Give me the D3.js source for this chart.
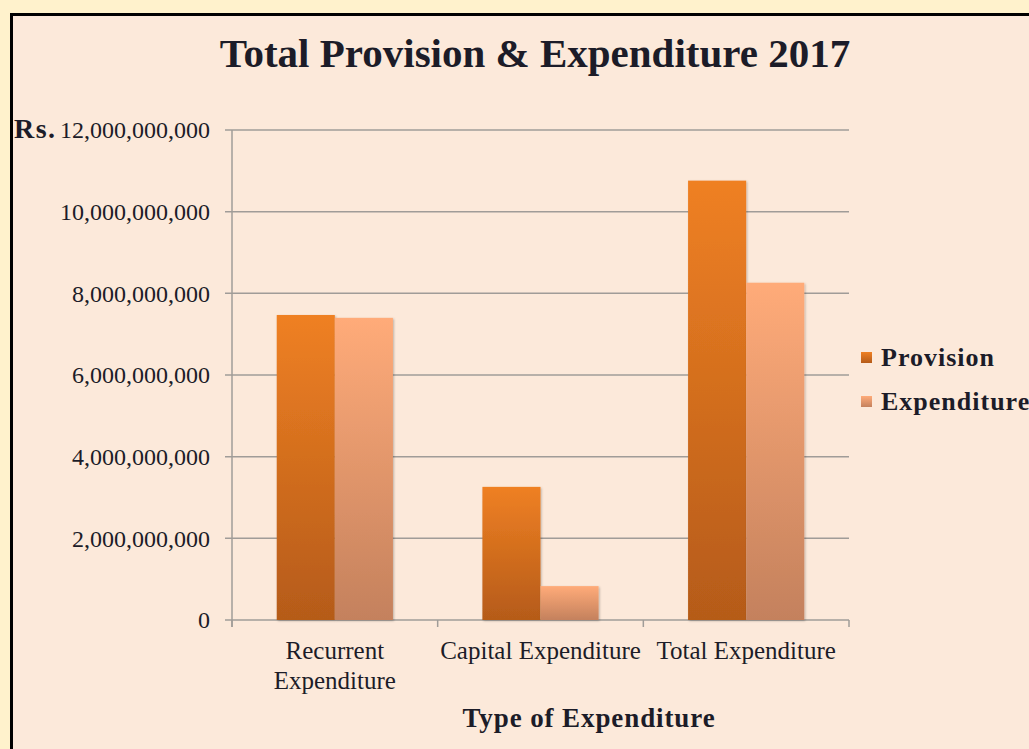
<!DOCTYPE html>
<html lang="en">
<head>
<meta charset="UTF-8"/>
<title>Total Provision & Expenditure 2017</title>
<script src="https://d3js.org/d3.v7.min.js"></script>
<style>
	html, body { margin: 0; padding: 0; background: #FFF2CC; overflow: hidden; }
	text { font-family: "Liberation Serif", "Times New Roman", serif; fill: #1c1c28; }
</style>
</head>
<body>
<script>
	// chart data
	var categories = ["Recurrent Expenditure", "Capital Expenditure", "Total Expenditure"];
	var catLines = [["Recurrent", "Expenditure"], ["Capital Expenditure"], ["Total Expenditure"]];
	var seriesNames = ["Provision", "Expenditure"];
	var provision = [7.47e9, 3.26e9, 10.76e9];
	var expenditure = [7.40e9, 0.83e9, 8.26e9];
	var yTicks = [0, 2e9, 4e9, 6e9, 8e9, 10e9, 12e9];

	var w = 1029, h = 749;
	var mLeft = 232, mRight = 849, mTop = 130, mBottom = 620;

	var svg = d3.select("body").append("svg")
		.attr("width", w)
		.attr("height", h);

	var defs = svg.append("defs");
	// gradients for the two series
	var grads = [["gProv", "#EF8023", "#B55B19"], ["gExp", "#FFAB79", "#C4815D"]];
	grads.forEach(function(g) {
		var lg = defs.append("linearGradient").attr("id", g[0])
			.attr("x1", 0).attr("y1", 0).attr("x2", 0).attr("y2", 1);
		lg.append("stop").attr("offset", "0%").attr("stop-color", g[1]);
		lg.append("stop").attr("offset", "100%").attr("stop-color", g[2]);
	});
	var f = defs.append("filter").attr("id", "shadow")
		.attr("x", "-10%").attr("y", "-10%").attr("width", "130%").attr("height", "130%");
	f.append("feDropShadow").attr("dx", 1).attr("dy", 1).attr("stdDeviation", 1.2)
		.attr("flood-color", "#000").attr("flood-opacity", 0.25);

	// chart box
	svg.append("rect")
		.attr("x", 11.5).attr("y", 14.5)
		.attr("width", w + 20).attr("height", h + 20)
		.attr("fill", "#FCE9DA")
		.attr("stroke", "#000")
		.attr("stroke-width", 3);

	var x0 = d3.scaleBand().domain(categories).range([mLeft, mRight]).paddingInner(0).paddingOuter(0);
	var x1 = d3.scaleBand().domain(seriesNames).range([0, x0.bandwidth()]).paddingOuter(0.77).paddingInner(0);
	var y = d3.scaleLinear().domain([0, 12e9]).range([mBottom, mTop]);

	// gridlines
	svg.append("g").selectAll("line")
		.data(yTicks)
		.enter().append("line")
		.attr("x1", mLeft - 7).attr("x2", mRight)
		.attr("y1", function(d) { return y(d); })
		.attr("y2", function(d) { return y(d); })
		.attr("stroke", "#A09C98").attr("stroke-width", 1.5);

	// y axis
	var yAxis = d3.axisLeft(y).tickValues(yTicks).tickSize(0).tickPadding(22)
		.tickFormat(d3.format(",.0f"));
	var gy = svg.append("g").attr("transform", "translate(" + mLeft + ",0)").call(yAxis);
	gy.select(".domain").remove();
	gy.selectAll("text").attr("font-size", 24).attr("fill", "#1c1c28")
		.style("font-family", "'Liberation Serif', serif");
	svg.append("line")
		.attr("x1", mLeft).attr("x2", mLeft).attr("y1", mTop).attr("y2", mBottom + 7)
		.attr("stroke", "#A09C98").attr("stroke-width", 1.5);

	svg.append("text")
		.attr("x", 14).attr("y", y(12e9) + 8)
		.attr("font-size", 28).attr("font-weight", "bold")
		.style("letter-spacing", "1.5px")
		.text("Rs.");

	// x tick marks at band edges
	var edges = categories.map(function(c) { return x0(c); }).concat([mRight]);
	svg.append("g").selectAll("line")
		.data(edges)
		.enter().append("line")
		.attr("x1", function(d) { return d; }).attr("x2", function(d) { return d; })
		.attr("y1", mBottom).attr("y2", mBottom + 7)
		.attr("stroke", "#A09C98").attr("stroke-width", 1.5);

	// bars
	var rows = categories.map(function(c, i) {
		return [{cat: c, s: "Provision", v: provision[i]}, {cat: c, s: "Expenditure", v: expenditure[i]}];
	});
	var groups = svg.append("g").selectAll("g")
		.data(rows)
		.enter().append("g")
		.attr("transform", function(d) { return "translate(" + x0(d[0].cat) + ",0)"; });
	groups.selectAll("rect")
		.data(function(d) { return d; })
		.enter().append("rect")
		.attr("x", function(d) { return x1(d.s); })
		.attr("y", function(d) { return y(d.v); })
		.attr("width", x1.bandwidth())
		.attr("height", function(d) { return mBottom - y(d.v); })
		.attr("fill", function(d) { return d.s == "Provision" ? "url(#gProv)" : "url(#gExp)"; })
		.attr("filter", "url(#shadow)");

	// category labels
	var labels = svg.append("g").selectAll("text")
		.data(categories)
		.enter().append("text")
		.attr("text-anchor", "middle")
		.attr("font-size", 25)
		.attr("x", function(d) { return x0(d) + x0.bandwidth() / 2; })
		.attr("y", 659);
	labels.each(function(d, i) {
		var t = d3.select(this);
		catLines[i].forEach(function(line, j) {
			t.append("tspan")
				.attr("x", x0(d) + x0.bandwidth() / 2)
				.attr("dy", j == 0 ? 0 : 30)
				.text(line);
		});
	});

	// title
	svg.append("text")
		.attr("x", 535).attr("y", 67)
		.attr("text-anchor", "middle")
		.attr("font-size", 41).attr("font-weight", "bold")
		.attr("fill", "#000")
		.text("Total Provision & Expenditure 2017");

	// x axis title
	svg.append("text")
		.attr("x", 589).attr("y", 727)
		.attr("text-anchor", "middle")
		.attr("font-size", 27).attr("font-weight", "bold")
		.style("letter-spacing", "0.9px")
		.text("Type of Expenditure");

	// legend
	var legend = svg.append("g").selectAll("g")
		.data(seriesNames)
		.enter().append("g")
		.attr("transform", function(d, i) { return "translate(861," + (352 + i * 44) + ")"; });
	legend.append("rect")
		.attr("width", 11).attr("height", 11)
		.attr("fill", function(d) { return d == "Provision" ? "url(#gProv)" : "url(#gExp)"; });
	legend.append("text")
		.attr("x", 20).attr("y", 14)
		.attr("font-size", 26).attr("font-weight", "bold")
		.style("letter-spacing", "1px")
		.text(function(d) { return d; });
</script>
</body>
</html>
